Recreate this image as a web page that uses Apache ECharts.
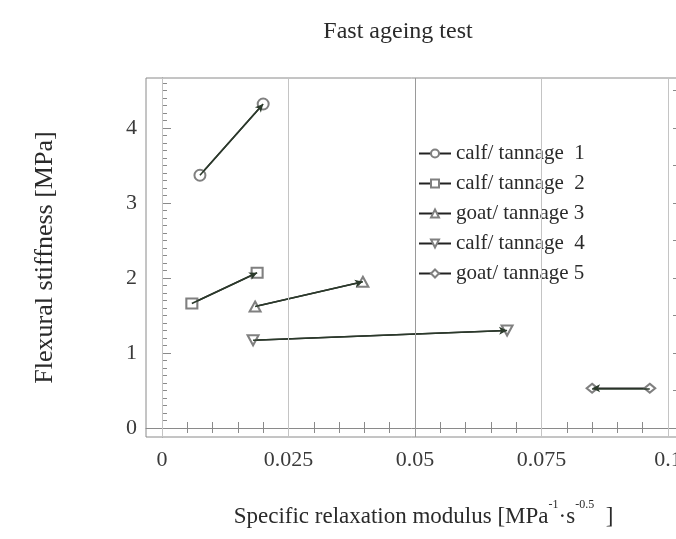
<!DOCTYPE html>
<html><head><meta charset="utf-8">
<script src="https://cdn.jsdelivr.net/npm/echarts@6/dist/echarts.min.js"></script>
<style>html,body{margin:0;padding:0;background:#fff}#c{width:676px;height:539px}</style>
</head><body><div id="c"></div>
<script>
const seriesNames = ['calf/ tannage  1','calf/ tannage  2','goat/ tannage 3','calf/ tannage  4','goat/ tannage 5'];
const s1 = [[0.0075, 3.37], [0.0200, 4.32]];
const s2 = [[0.0059, 1.66], [0.0188, 2.07]];
const s3 = [[0.0184, 1.62], [0.0397, 1.95]];
const s4 = [[0.0180, 1.17], [0.0682, 1.30]];
const s5 = [[0.0964, 0.53], [0.0850, 0.53]];
const xLabelVals = [0, 0.025, 0.05, 0.075, 0.1];
const xTickVals = [0,0.005,0.01,0.015,0.02,0.025,0.03,0.035,0.04,0.045,0.05,0.055,0.06,0.065,0.07,0.075,0.08,0.085,0.09,0.095,0.1];
const yLabelVals = [0, 1, 2, 3, 4];
const yMinorVals = [0,0.1,0.2,0.3,0.4,0.5,0.6,0.7,0.8,0.9,1,1.1,1.2,1.3,1.4,1.5,1.6,1.7,1.8,1.9,2,2.1,2.2,2.3,2.4,2.5,2.6,2.7,2.8,2.9,3,3.1,3.2,3.3,3.4,3.5,3.6,3.7,3.8,3.9,4,4.1,4.2,4.3,4.4,4.5,4.6];
const yRightVals = [0,0.5,1,1.5,2,2.5,3,3.5,4,4.5];
const gridX = [0, 0.025, 0.05, 0.075, 0.1];
const XMIN = -0.00316, XMAX = 0.10178, YMIN = -0.12, YMAX = 4.667;

const FONT = 'Liberation Serif';
const TXT = '#2a2a2a';
const symbols = ['emptyCircle','emptyRect','emptyTriangle','emptyTriangle','emptyDiamond'];
const rotates = [0,0,0,180,0];
const sizes = [[11,11],[11,10],[11,10],[11,10],[11,9]];
const datas = [s1,s2,s3,s4,s5];

const chart = echarts.init(document.getElementById('c'), null, {renderer:'canvas'});
const series = datas.map((d,i)=>({
  name: seriesNames[i], type:'line', data:d,
  symbol: symbols[i], symbolRotate: rotates[i], symbolSize: sizes[i],
  itemStyle:{color:'#808080', borderColor:'#808080', borderWidth:1},
  lineStyle:{color:'#222', width:1.6},
  z: 3,
  markLine:{
    silent:true, animation:false, precision:6,
    symbol:['none','arrow'], symbolSize:[6,8],
    lineStyle:{color:'#2b3a2b', width:1.6, type:'solid'},
    label:{show:false},
    data:[[{coord:d[0]},{coord:d[1]}]]
  }
}));
series.push({
  name:'grid', type:'line', data:[], z:1,
  markLine:{
    silent:true, animation:false, precision:6, symbol:['none','none'], label:{show:false},
    lineStyle:{color:'#c4c4c4', width:1, type:'solid'},
    data: gridX.map(v=>({xAxis:v, lineStyle:{color: v===0.05 ? '#9a9a9a' : '#c4c4c4'}}))
  }
});

chart.setOption({
  animation:false,
  backgroundColor:'#fff',
  title:{text:'Fast ageing test', left:393, top:15, textAlign:'center',
    textStyle:{fontFamily:FONT, fontSize:24, fontWeight:'normal', color:TXT}},
  legend:{
    data: seriesNames, orient:'vertical', left:413, top:138,
    itemWidth:32, itemHeight:10, itemGap:9,
    textStyle:{fontFamily:FONT, fontSize:21, color:TXT}
  },
  grid:{left:146, top:78, width:531, bottom:102, show:true, borderColor:'#8a8a8a', borderWidth:1,
    outerBoundsMode:'none', containLabel:false},
  xAxis:[
    {type:'value', position:'bottom', min:XMIN, max:XMAX,
     name:'Specific relaxation modulus [MPa{sup|-1}·s{sup|-0.5}  ]',
     nameLocation:'middle', nameGap:62,
     nameTextStyle:{fontFamily:FONT, fontSize:23, color:TXT, padding:[0,0,0,24],
       rich:{sup:{fontFamily:FONT, fontSize:12, color:TXT, padding:[0,0,24,0]}}},
     axisLine:{show:true, lineStyle:{color:'#8a8a8a'}},
     axisTick:{show:true, inside:true, length:6, customValues:xTickVals, lineStyle:{color:'#8a8a8a'}},
     axisLabel:{customValues:xLabelVals, margin:12, fontFamily:FONT, fontSize:22, color:'#3a3a3a',
       formatter:v=>String(+v.toFixed(3))},
     splitLine:{show:false}},
    {type:'value', position:'top', min:XMIN, max:XMAX,
     axisLine:{show:false},
     axisTick:{show:true, inside:true, length:5, customValues:xTickVals, lineStyle:{color:'#8a8a8a'}},
     axisLabel:{show:false}, splitLine:{show:false}}
  ],
  yAxis:[
    {type:'value', position:'left', min:YMIN, max:YMAX,
     name:'Flexural stiffness [MPa]', nameLocation:'middle', nameGap:88,
     nameTextStyle:{fontFamily:FONT, fontSize:26, color:TXT},
     axisLine:{show:true, lineStyle:{color:'#8a8a8a'}},
     axisTick:{show:true, inside:true, length:5, customValues:yMinorVals, lineStyle:{color:'#8a8a8a'}},
     axisLabel:{customValues:yLabelVals, margin:9, fontFamily:FONT, fontSize:22, color:'#3a3a3a'},
     splitLine:{show:false}},
    {type:'value', position:'left', min:YMIN, max:YMAX,
     axisLine:{show:false},
     axisTick:{show:true, inside:true, length:9, customValues:yLabelVals, lineStyle:{color:'#8a8a8a'}},
     axisLabel:{show:false}, splitLine:{show:false}},
    {type:'value', position:'right', min:YMIN, max:YMAX,
     axisLine:{show:false},
     axisTick:{show:true, inside:true, length:4, customValues:yRightVals, lineStyle:{color:'#8a8a8a'}},
     axisLabel:{show:false}, splitLine:{show:false}}
  ],
  series: series
});
</script></body></html>
